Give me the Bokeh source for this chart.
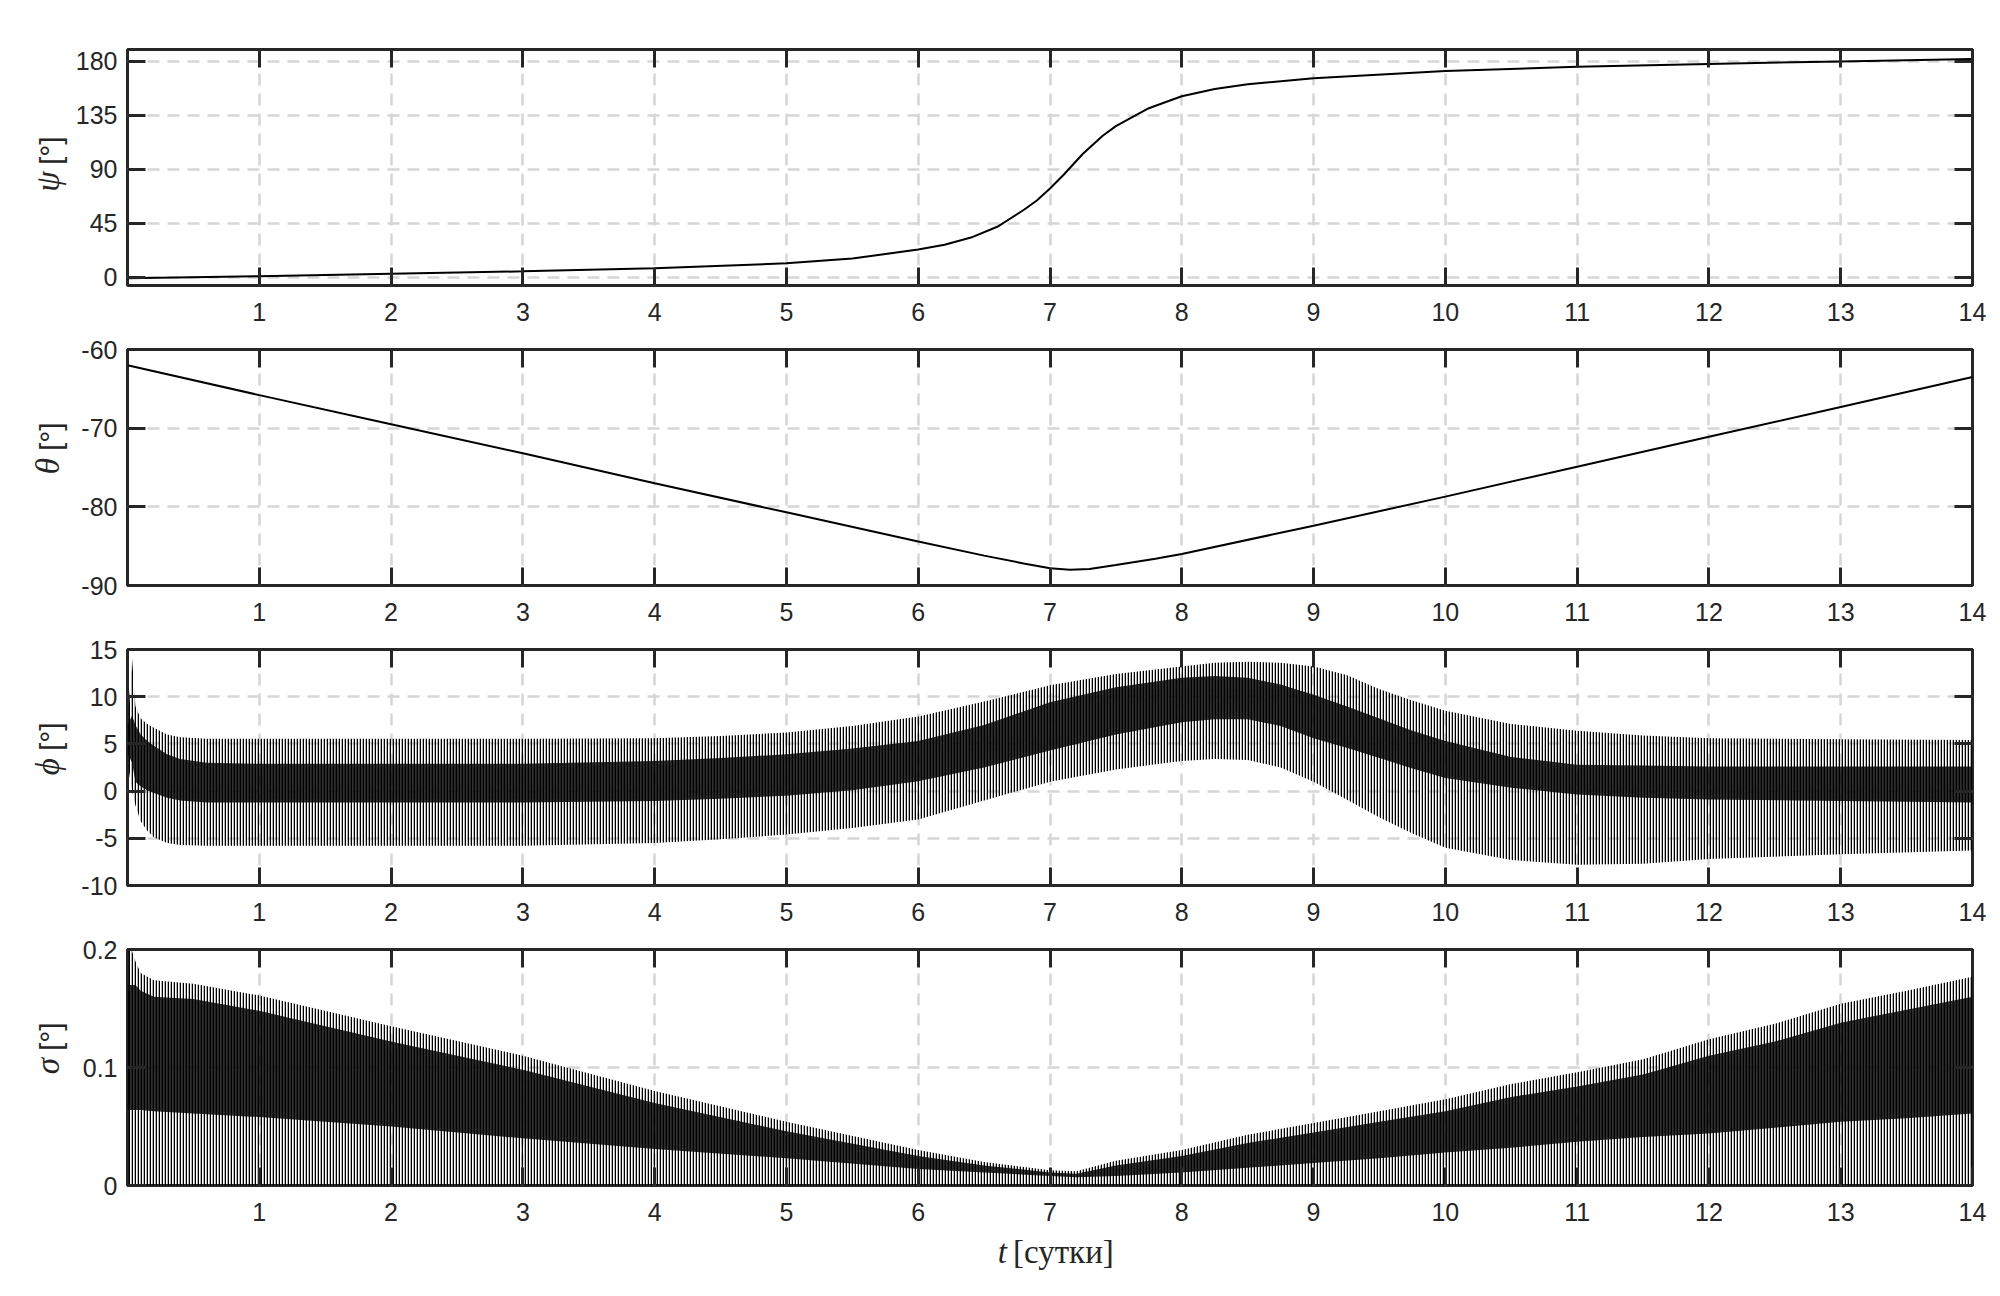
import math
from bokeh.plotting import figure
from bokeh.layouts import column, row
from bokeh.models import FixedTicker, LinearAxis, Range1d, CustomLabelingPolicy
from bokeh.core.properties import value
from bokeh.embed import file_html
from bokeh.resources import INLINE

# ---------------- data ----------------
x_ticks = [1, 2, 3, 4, 5, 6, 7, 8, 9, 10, 11, 12, 13, 14]

# psi [deg]
t_psi = [0, 1, 2, 3, 4, 5, 5.5, 6, 6.2, 6.4, 6.6, 6.8, 6.9, 7, 7.1, 7.25, 7.4, 7.5, 7.6, 7.75,
         7.9, 8, 8.25, 8.5, 9, 10, 11, 12, 13, 14]
psi = [-1, 0.8, 2.8, 4.8, 7.3, 11.5, 15.5, 23, 27, 33, 42, 56, 64, 74, 85, 103, 118, 126, 132,
       141, 147, 151, 157, 161, 166, 172, 175.5, 178, 180, 182]
psi_ticks = [0, 45, 90, 135, 180]
psi_tick_labels = ["0", "45", "90", "135", "180"]

# theta [deg]
t_theta = [0, 1, 2, 3, 4, 5, 6, 6.5, 6.8, 7, 7.15, 7.3, 7.5, 7.8, 8, 9, 10, 11, 12, 13, 14]
theta = [-62, -65.8, -69.5, -73.2, -77, -80.7, -84.4, -86.2, -87.2, -87.8, -88.0, -87.9, -87.4,
         -86.6, -86, -82.4, -78.7, -74.9, -71.1, -67.3, -63.5]
theta_ticks = [-90, -80, -70, -60]
theta_tick_labels = ["-90", "-80", "-70", "-60"]

# phi [deg]: envelope of the fast oscillation and its dense core
t_phi = [0, 0.035, 0.06, 0.1, 0.15, 0.2, 0.3, 0.4, 0.6, 1, 2, 3, 4, 4.5, 5, 5.5, 6, 6.5, 7,
         7.5, 8, 8.25, 8.5, 8.75, 9, 9.25, 9.5, 9.75, 10, 10.5, 11, 11.5, 12, 13, 14]
phi_max = [7, 14, 9, 7.7, 7.1, 6.7, 6.0, 5.7, 5.55, 5.55, 5.55, 5.55, 5.6, 5.85, 6.2, 6.9, 7.9,
           9.5, 11.2, 12.4, 13.2, 13.6, 13.7, 13.6, 13.2, 12.3, 10.8, 9.6, 8.5, 7.1, 6.4, 5.9,
           5.6, 5.5, 5.4]
phi_min = [3, 0, -1.5, -3.2, -4.2, -4.9, -5.5, -5.7, -5.8, -5.8, -5.8, -5.8, -5.5, -5.1, -4.6,
           -3.9, -3.0, -1.0, 1.0, 2.3, 3.2, 3.4, 3.3, 2.5, 1.0, -0.9, -2.8, -4.5, -6.0, -7.3,
           -7.8, -7.7, -7.2, -6.7, -6.3]
phi_core_hi = [7, 8, 7, 6, 5.3, 4.8, 3.9, 3.4, 3.0, 2.9, 2.9, 2.9, 3.2, 3.5, 3.9, 4.5, 5.3, 7.0,
               9.4, 11.0, 12.0, 12.2, 12.0, 11.3, 10.2, 9.0, 7.7, 6.4, 5.3, 3.6, 2.8, 2.7, 2.6,
               2.6, 2.6]
phi_core_lo = [4, 3, 1, 0.5, 0.1, -0.2, -0.7, -1.0, -1.2, -1.2, -1.2, -1.2, -1.05, -0.8, -0.5,
               0.1, 1.05, 2.5, 4.3, 6.0, 7.3, 7.6, 7.6, 6.9, 5.6, 4.6, 3.5, 2.4, 1.4, 0.35,
               -0.35, -0.7, -0.9, -1.05, -1.2]
phi_ticks = [-10, -5, 0, 5, 10, 15]
phi_tick_labels = ["-10", "-5", "0", "5", "10", "15"]

# sigma [deg]
t_sig = [0, 0.03, 0.06, 0.1, 0.2, 0.5, 1, 2, 3, 4, 5, 6, 6.5, 7, 7.2, 7.5, 8, 8.5, 9, 9.5, 10,
         10.5, 11, 11.5, 12, 12.5, 13, 13.5, 14]
sig_max = [0.2, 0.2, 0.19, 0.18, 0.174, 0.171, 0.161, 0.135, 0.11, 0.08, 0.054, 0.03, 0.02,
           0.013, 0.012, 0.021, 0.030, 0.043, 0.053, 0.063, 0.073, 0.086, 0.096, 0.107, 0.124,
           0.137, 0.154, 0.165, 0.177]
sig_min = [0] * 29
sig_core_hi = [0.17, 0.17, 0.17, 0.165, 0.16, 0.158, 0.148, 0.122, 0.098, 0.07, 0.046, 0.025,
               0.017, 0.011, 0.010, 0.017, 0.025, 0.036, 0.045, 0.054, 0.063, 0.075, 0.084,
               0.094, 0.11, 0.122, 0.138, 0.149, 0.16]
sig_core_lo = [0.064, 0.064, 0.064, 0.064, 0.063, 0.061, 0.058, 0.050, 0.040, 0.031, 0.023,
               0.014, 0.011, 0.008, 0.007, 0.008, 0.011, 0.015, 0.019, 0.023, 0.028, 0.032,
               0.037, 0.041, 0.044, 0.049, 0.054, 0.057, 0.061]
sig_ticks = [0, 0.1, 0.2]
sig_tick_labels = ["0", "0.1", "0.2"]

# ---------------- styling ----------------
INK = "#262626"
FRAME_W, FRAME_H = 1845, 236
LAB_W = 70            # width of the strip holding the y labels
MAIN_LEFT = 57        # left border of the plot (LAB_W + MAIN_LEFT = frame left)
RIGHT = 20
BOTTOM = 50
TOP_FIRST, TOP = 49, 14
TICK_FONT = "Liberation Sans"

HIDE = CustomLabelingPolicy(code="for (const i of indices) indices.unset(i); return indices")


def style_axis(ax, ticks, labels=None):
    ax.ticker = FixedTicker(ticks=ticks)
    ax.axis_line_color = None
    ax.major_tick_in = 18
    ax.major_tick_out = 0
    ax.major_tick_line_width = 3
    ax.major_tick_line_color = INK
    ax.minor_tick_line_color = None
    ax.major_label_text_font = TICK_FONT
    ax.major_label_text_color = INK
    if labels is None:
        ax.major_label_text_font_size = "1px"
        ax.major_label_standoff = 0
        ax.major_label_policy = HIDE
    else:
        ax.major_label_text_font_size = "25px"
        ax.major_label_overrides = {v: s for v, s in zip(ticks, labels)}


def make_panel(yr, yticks, ylabels, greek, top):
    p = figure(frame_width=FRAME_W, frame_height=FRAME_H,
               x_range=Range1d(0, 14), y_range=Range1d(*yr),
               output_backend="svg", toolbar_location=None,
               min_border_left=MAIN_LEFT, min_border_right=RIGHT,
               min_border_top=top, min_border_bottom=BOTTOM,
               background_fill_color="white", border_fill_color="white")
    p.outline_line_color = INK
    p.outline_line_width = 3
    p.outline_line_alpha = 1.0
    style_axis(p.xaxis[0], x_ticks, [str(v) for v in x_ticks])
    p.xaxis[0].major_label_standoff = 17
    style_axis(p.yaxis[0], yticks, ylabels)
    p.yaxis[0].major_label_standoff = 10
    top_ax = LinearAxis()
    style_axis(top_ax, x_ticks)
    p.add_layout(top_ax, "above")
    right_ax = LinearAxis()
    style_axis(right_ax, yticks)
    p.add_layout(right_ax, "right")
    for g, tk in ((p.xgrid[0], x_ticks), (p.ygrid[0], yticks)):
        g.ticker = FixedTicker(ticks=tk)
        g.grid_line_color = "#d6d6d6"
        g.grid_line_width = 2.5
        g.grid_line_dash = "12 8"

    # strip on the left holding the y label (italic greek letter + "[°]")
    H = top + FRAME_H + BOTTOM
    lab = figure(width=LAB_W, height=H, x_range=Range1d(0, LAB_W), y_range=Range1d(0, H),
                 output_backend="svg", toolbar_location=None, min_border=0,
                 x_axis_type=None, y_axis_type=None,
                 background_fill_color="white", border_fill_color="white")
    lab.outline_line_color = None
    lab.grid.visible = False
    lab.text(x=[47], y=[H - (top + 124)], text=[greek], angle=math.pi / 2,
             text_font=value("Liberation Serif"), text_font_style="italic",
             text_font_size="33px", text_align="right", text_baseline="middle",
             text_color=INK)
    lab.text(x=[50], y=[H - (top + 115)], text=["[°]"], angle=math.pi / 2,
             text_font=value(TICK_FONT), text_font_size="30px",
             text_align="left", text_baseline="middle", text_color=INK)
    return p, lab


p1, l1 = make_panel((-7, 190), psi_ticks, psi_tick_labels, "ψ", TOP_FIRST)
p1.line(t_psi, psi, line_color="black", line_width=2)

p2, l2 = make_panel((-90, -60), theta_ticks, theta_tick_labels, "θ", TOP)
p2.line(t_theta, theta, line_color="black", line_width=2)

p3, l3 = make_panel((-10, 15), phi_ticks, phi_tick_labels, "ϕ", TOP)
p3.varea(x=t_phi, y1=phi_min, y2=phi_max, fill_color="white", fill_alpha=0.0,
         hatch_pattern="|", hatch_color="black", hatch_scale=3, hatch_weight=1.6)
p3.varea(x=t_phi, y1=phi_core_lo, y2=phi_core_hi, fill_color="black", fill_alpha=0.82)

p4, l4 = make_panel((0, 0.2), sig_ticks, sig_tick_labels, "σ", TOP)
p4.varea(x=t_sig, y1=sig_min, y2=sig_max, fill_color="white", fill_alpha=0.0,
         hatch_pattern="|", hatch_color="black", hatch_scale=3, hatch_weight=1.6)
p4.varea(x=t_sig, y1=sig_core_lo, y2=sig_core_hi, fill_color="black", fill_alpha=0.82)

# x label strip: "t [сутки]" centred under the frames
TOTAL_W = LAB_W + MAIN_LEFT + FRAME_W + RIGHT
XL_H = 50
xl = figure(width=TOTAL_W, height=XL_H, x_range=Range1d(0, TOTAL_W), y_range=Range1d(0, XL_H),
            output_backend="svg", toolbar_location=None, min_border=0,
            x_axis_type=None, y_axis_type=None,
            background_fill_color="white", border_fill_color="white")
xl.outline_line_color = None
xl.grid.visible = False
xc = LAB_W + MAIN_LEFT + FRAME_W / 2
xl.text(x=[xc - 43], y=[34], text=["t"], text_font=value("Liberation Serif"),
        text_font_style="italic", text_font_size="33px", text_align="right",
        text_baseline="alphabetic", text_color=INK)
xl.text(x=[xc - 37], y=[34], text=["[сутки]"], text_font=value("Liberation Serif"),
        text_font_size="33px", text_align="left", text_baseline="alphabetic",
        text_color=INK)

layout = column(row(l1, p1, spacing=0), row(l2, p2, spacing=0), row(l3, p3, spacing=0),
                row(l4, p4, spacing=0), xl, spacing=0)
open("out.html", "w").write(file_html(layout, INLINE))
